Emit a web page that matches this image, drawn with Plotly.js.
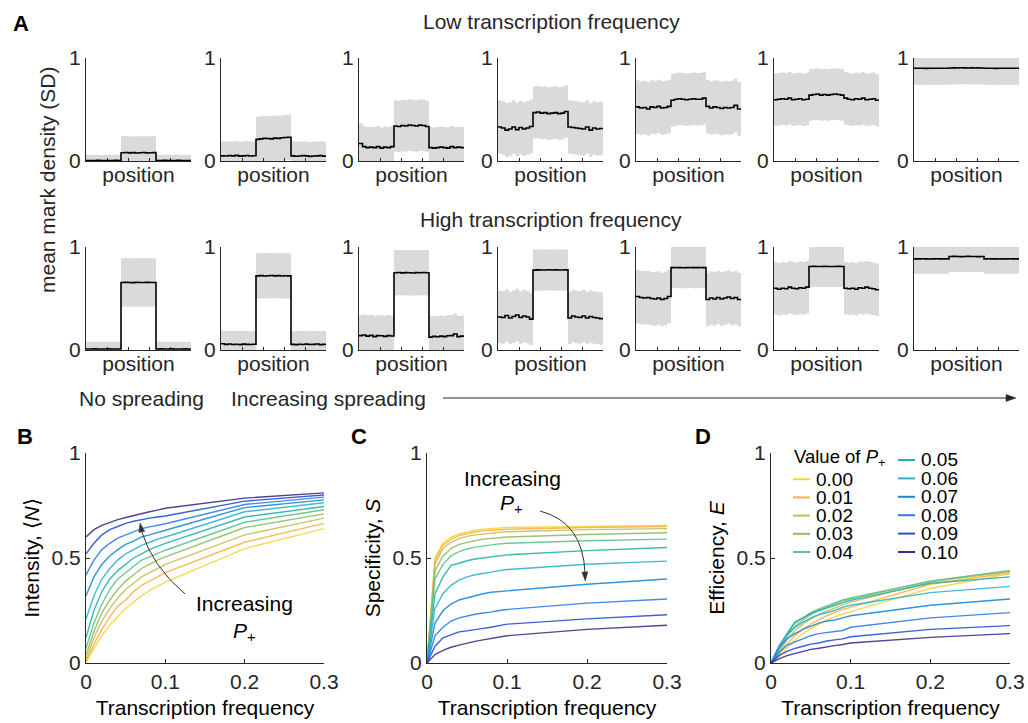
<!DOCTYPE html>
<html>
<head>
<meta charset="utf-8">
<script src="https://cdn.plot.ly/plotly-3.0.1.min.js"></script>
<style>html,body{margin:0;padding:0;background:#fff;}#chart{width:1028px;height:723px;}</style>
</head>
<body>
<div id="chart"></div>
<script>
// ---------- DATA ----------
// Panel A: mean mark density profiles (30 position bins, inner region = bins 10-19)
var lowFreqProfiles = [
  [0.005,0.004,0.005,0.006,0.004,0.005,0.005,0.004,0.006,0.005, 0.080,0.082,0.079,0.081,0.078,0.080,0.082,0.079,0.080,0.081, 0.005,0.004,0.006,0.005,0.004,0.005,0.006,0.004,0.005,0.005],
  [0.050,0.048,0.052,0.050,0.055,0.047,0.050,0.053,0.049,0.051, 0.210,0.215,0.220,0.218,0.215,0.222,0.220,0.225,0.228,0.230, 0.050,0.046,0.048,0.052,0.050,0.045,0.048,0.050,0.052,0.047],
  [0.170,0.140,0.130,0.135,0.130,0.140,0.125,0.135,0.130,0.140, 0.340,0.335,0.345,0.340,0.350,0.345,0.340,0.348,0.345,0.335, 0.130,0.125,0.130,0.135,0.130,0.125,0.140,0.130,0.135,0.130],
  [0.330,0.320,0.300,0.310,0.330,0.305,0.325,0.310,0.320,0.335, 0.470,0.475,0.465,0.470,0.460,0.465,0.470,0.460,0.465,0.480, 0.330,0.325,0.320,0.315,0.310,0.330,0.300,0.320,0.310,0.315],
  [0.525,0.515,0.520,0.505,0.525,0.520,0.530,0.515,0.520,0.530, 0.590,0.600,0.605,0.600,0.595,0.600,0.605,0.600,0.600,0.610, 0.530,0.515,0.525,0.520,0.510,0.520,0.515,0.520,0.540,0.505],
  [0.595,0.600,0.605,0.600,0.610,0.595,0.600,0.605,0.595,0.600, 0.640,0.645,0.650,0.640,0.645,0.640,0.645,0.650,0.645,0.640, 0.610,0.600,0.595,0.605,0.600,0.610,0.595,0.600,0.605,0.590],
  [0.900,0.901,0.900,0.899,0.900,0.900,0.901,0.900,0.900,0.901, 0.903,0.904,0.903,0.905,0.904,0.903,0.904,0.903,0.904,0.903, 0.900,0.900,0.901,0.899,0.900,0.900,0.901,0.900,0.900,0.900]
];
var highFreqProfiles = [
  [0.010,0.009,0.011,0.010,0.009,0.010,0.011,0.010,0.009,0.010, 0.655,0.657,0.656,0.654,0.657,0.656,0.655,0.657,0.656,0.655, 0.010,0.011,0.009,0.010,0.011,0.010,0.009,0.010,0.011,0.010],
  [0.060,0.055,0.058,0.054,0.056,0.052,0.057,0.055,0.053,0.056, 0.720,0.722,0.719,0.721,0.724,0.720,0.722,0.719,0.721,0.720, 0.055,0.052,0.056,0.054,0.057,0.053,0.055,0.058,0.052,0.055],
  [0.140,0.145,0.135,0.142,0.130,0.140,0.138,0.132,0.140,0.136, 0.750,0.752,0.749,0.751,0.750,0.748,0.751,0.750,0.752,0.750, 0.125,0.132,0.128,0.135,0.130,0.138,0.140,0.155,0.130,0.135],
  [0.320,0.315,0.335,0.310,0.325,0.340,0.315,0.330,0.320,0.300, 0.775,0.778,0.776,0.777,0.779,0.776,0.778,0.777,0.776,0.778, 0.310,0.330,0.320,0.315,0.330,0.310,0.325,0.315,0.310,0.305],
  [0.520,0.510,0.505,0.510,0.500,0.495,0.505,0.490,0.500,0.520, 0.800,0.801,0.800,0.799,0.800,0.801,0.800,0.800,0.801,0.800, 0.490,0.505,0.495,0.510,0.495,0.505,0.515,0.500,0.510,0.490],
  [0.600,0.590,0.600,0.595,0.610,0.600,0.595,0.605,0.600,0.610, 0.810,0.812,0.811,0.810,0.812,0.811,0.810,0.811,0.812,0.810, 0.600,0.595,0.600,0.590,0.605,0.600,0.610,0.600,0.595,0.585],
  [0.885,0.885,0.886,0.885,0.884,0.885,0.886,0.885,0.885,0.885, 0.908,0.909,0.908,0.907,0.908,0.909,0.908,0.908,0.907,0.908, 0.885,0.886,0.885,0.885,0.884,0.885,0.885,0.886,0.885,0.885]
];
// standard deviation outside / inside the transcribed region
var lowSdOut  = [0.055,0.14,0.20,0.26,0.26,0.255,0.16];
var lowSdIn   = [0.16,0.22,0.25,0.255,0.255,0.25,0.16];
var highSdOut = [0.07,0.13,0.20,0.255,0.26,0.255,0.145];
var highSdIn  = [0.235,0.22,0.22,0.20,0.20,0.20,0.15];

// Panels B-D
var transcriptionFreq = [0,0.01,0.02,0.03,0.04,0.05,0.06,0.07,0.08,0.09,0.10,0.20,0.30];
var pPlusValues = ['0.00','0.01','0.02','0.03','0.04','0.05','0.06','0.07','0.08','0.09','0.10'];
var intensity = [
  [0.00,0.07,0.13,0.18,0.22,0.26,0.29,0.32,0.345,0.365,0.385,0.545,0.64],
  [0.01,0.09,0.16,0.22,0.27,0.30,0.34,0.37,0.39,0.41,0.43,0.575,0.665],
  [0.02,0.12,0.20,0.26,0.31,0.35,0.38,0.41,0.43,0.45,0.47,0.61,0.69],
  [0.04,0.15,0.24,0.30,0.35,0.39,0.42,0.45,0.47,0.49,0.505,0.645,0.71],
  [0.07,0.19,0.28,0.35,0.40,0.43,0.46,0.49,0.505,0.52,0.537,0.67,0.73],
  [0.12,0.25,0.34,0.40,0.44,0.47,0.50,0.52,0.54,0.555,0.57,0.695,0.745],
  [0.21,0.32,0.40,0.45,0.49,0.52,0.54,0.56,0.575,0.59,0.60,0.72,0.763],
  [0.32,0.41,0.47,0.51,0.54,0.565,0.58,0.60,0.61,0.622,0.632,0.74,0.777],
  [0.42,0.49,0.54,0.57,0.595,0.61,0.625,0.64,0.648,0.656,0.663,0.755,0.79],
  [0.52,0.57,0.61,0.635,0.65,0.665,0.675,0.683,0.69,0.695,0.70,0.771,0.80],
  [0.60,0.635,0.655,0.67,0.683,0.693,0.703,0.712,0.72,0.728,0.737,0.785,0.81]
];
var specificity = [
  [0,0.50,0.57,0.60,0.615,0.625,0.632,0.637,0.64,0.642,0.645,0.65,0.655],
  [0,0.49,0.56,0.59,0.607,0.617,0.624,0.629,0.632,0.635,0.637,0.645,0.65],
  [0,0.47,0.545,0.575,0.592,0.603,0.61,0.615,0.619,0.622,0.625,0.635,0.64],
  [0,0.44,0.51,0.545,0.565,0.575,0.583,0.59,0.594,0.598,0.60,0.612,0.62],
  [0,0.40,0.47,0.51,0.53,0.543,0.552,0.558,0.563,0.567,0.57,0.582,0.59],
  [0,0.33,0.41,0.465,0.475,0.487,0.495,0.50,0.505,0.51,0.515,0.535,0.55],
  [0,0.26,0.33,0.37,0.395,0.41,0.42,0.428,0.433,0.44,0.445,0.47,0.485],
  [0,0.19,0.25,0.28,0.30,0.31,0.323,0.33,0.337,0.34,0.345,0.375,0.40],
  [0,0.13,0.17,0.20,0.215,0.225,0.232,0.238,0.242,0.25,0.255,0.285,0.305],
  [0,0.08,0.12,0.135,0.148,0.153,0.16,0.165,0.17,0.178,0.185,0.21,0.23],
  [0,0.04,0.06,0.075,0.085,0.095,0.103,0.11,0.116,0.122,0.13,0.16,0.18]
];
var efficiency = [
  [0,0.03,0.07,0.11,0.14,0.165,0.185,0.205,0.22,0.232,0.245,0.355,0.425],
  [0,0.04,0.09,0.13,0.16,0.185,0.205,0.225,0.24,0.255,0.265,0.375,0.43],
  [0,0.05,0.11,0.155,0.185,0.21,0.23,0.248,0.262,0.275,0.29,0.385,0.435],
  [0,0.06,0.125,0.175,0.205,0.23,0.25,0.265,0.28,0.295,0.305,0.39,0.44],
  [0,0.07,0.135,0.19,0.215,0.24,0.258,0.272,0.287,0.30,0.31,0.39,0.44],
  [0,0.08,0.14,0.195,0.215,0.235,0.25,0.262,0.275,0.288,0.298,0.38,0.41],
  [0,0.08,0.135,0.17,0.195,0.215,0.23,0.24,0.25,0.265,0.275,0.335,0.365],
  [0,0.07,0.115,0.14,0.16,0.175,0.19,0.20,0.205,0.215,0.225,0.275,0.305],
  [0,0.05,0.085,0.10,0.115,0.13,0.14,0.145,0.15,0.155,0.17,0.215,0.24],
  [0,0.035,0.055,0.07,0.08,0.09,0.095,0.105,0.11,0.115,0.125,0.16,0.178],
  [0,0.02,0.035,0.045,0.055,0.065,0.07,0.078,0.083,0.088,0.095,0.122,0.14]
];
var tfTicks = [0,0.1,0.2,0.3];
var tfTickText = ['0','0.1','0.2','0.3'];

// ---------- STYLE / LAYOUT ----------
var W = 1028, H = 723;
var FONT = 'Liberation Sans, Arial, Helvetica, sans-serif';
var AX = '#262626';
var colors = ['#f6d43c','#f8b246','#c8bb5c','#8fbd62','#5cc290','#22b3a6','#2fb0cf','#1a8ad6','#2f7de5','#2450d2','#3b2f8a'];
function px(x){return x/W;}
function py(y){return 1 - y/H;}

var topLefts = [86,221,359,498,636,774,914];
var topW = 105;
var rows = [{top:58,bot:161},{top:247,bot:350}];
var bottomPanels = [{l:86,r:324},{l:427,r:667},{l:771,r:1010}];
var bTop = 453, bBot = 663;

var data = [];
var layout = {
  width: W, height: H,
  margin: {l:0,r:0,t:0,b:0},
  paper_bgcolor: '#fff', plot_bgcolor: 'rgba(0,0,0,0)',
  showlegend: false,
  font: {family: FONT, size: 21, color: AX},
  annotations: [], shapes: []
};

var nb = 30;
var binX = [];
for (var i = 0; i <= nb; i++) binX.push(i/nb);

var axIdx = 0;
function addTopPanel(profile, sdOut, sdIn, row) {
  axIdx++;
  var xa = 'x' + axIdx, ya = 'y' + axIdx;
  var mean = profile.concat([profile[profile.length-1]]);
  var lo = [], hi = [];
  for (var i = 0; i < mean.length; i++) {
    var b = Math.min(i, nb-1);
    var sd = (b >= 10 && b <= 19) ? sdIn : sdOut;
    lo.push(mean[i] - sd); hi.push(mean[i] + sd);
  }
  data.push({x: binX, y: lo, xaxis: xa, yaxis: ya, type: 'scatter', mode: 'lines',
    line: {shape: 'hv', width: 0, color: '#dadada'}, hoverinfo: 'skip'});
  data.push({x: binX, y: hi, xaxis: xa, yaxis: ya, type: 'scatter', mode: 'lines',
    line: {shape: 'hv', width: 0, color: '#dadada'}, fill: 'tonexty', fillcolor: '#dadada', hoverinfo: 'skip'});
  data.push({x: binX, y: mean, xaxis: xa, yaxis: ya, type: 'scatter', mode: 'lines',
    line: {shape: 'hv', width: 1.6, color: '#000'}});
  var col = (axIdx - 1) % 7;
  var r = rows[row];
  var xkey = 'xaxis' + (axIdx === 1 ? '' : axIdx), ykey = 'yaxis' + (axIdx === 1 ? '' : axIdx);
  layout[xkey] = {domain: [px(topLefts[col]), px(topLefts[col] + topW)], anchor: ya, range: [0,1],
    showline: true, linecolor: AX, linewidth: 1, ticks: 'inside', ticklen: 3, tickcolor: AX,
    tickvals: [0,0.2,0.4,0.6,0.8,1], showticklabels: false, showgrid: false, zeroline: false,
    title: {text: 'position', font: {size: 21, color: AX}, standoff: 6}, fixedrange: true};
  layout[ykey] = {domain: [py(r.bot), py(r.top)], anchor: xa, range: [0,1],
    showline: true, linecolor: AX, linewidth: 1, ticks: 'inside', ticklen: 3, tickcolor: AX,
    tickvals: [0,1], ticktext: ['0','1'], showgrid: false, zeroline: false,
    tickfont: {size: 21, color: AX}, fixedrange: true};
}
for (var k = 0; k < 7; k++) addTopPanel(lowFreqProfiles[k], lowSdOut[k], lowSdIn[k], 0);
for (var k = 0; k < 7; k++) addTopPanel(highFreqProfiles[k], highSdOut[k], highSdIn[k], 1);

var bottomSeries = [intensity, specificity, efficiency];
var bottomTitles = ['Intensity, \u27e8<i>N</i>\u27e9', 'Specificity, <i>S</i>', 'Efficiency, <i>E</i>'];
for (var p = 0; p < 3; p++) {
  axIdx++;
  var xa = 'x' + axIdx, ya = 'y' + axIdx;
  for (var s = 0; s < pPlusValues.length; s++) {
    data.push({x: transcriptionFreq, y: bottomSeries[p][s], xaxis: xa, yaxis: ya, type: 'scatter',
      mode: 'lines', name: pPlusValues[s], line: {color: colors[s], width: 1.4}, opacity: 0.9});
  }
  var bp = bottomPanels[p];
  layout['xaxis' + axIdx] = {domain: [px(bp.l), px(bp.r)], anchor: ya, range: [0,0.3],
    showline: true, linecolor: AX, linewidth: 1, ticks: 'inside', ticklen: 4, tickcolor: AX,
    tickvals: tfTicks, ticktext: tfTickText, showgrid: false, zeroline: false,
    tickfont: {size: 21, color: AX},
    title: {text: 'Transcription frequency', font: {size: 21, color: '#000'}, standoff: 8}, fixedrange: true};
  layout['yaxis' + axIdx] = {domain: [py(bBot), py(bTop)], anchor: xa, range: [0,1],
    showline: true, linecolor: AX, linewidth: 1, ticks: 'inside', ticklen: 4, tickcolor: AX,
    tickvals: [0,0.5,1], ticktext: ['0','0.5','1'], showgrid: false, zeroline: false,
    tickfont: {size: 21, color: AX},
    title: {text: bottomTitles[p], font: {size: 21, color: '#000'}, standoff: 6}, fixedrange: true};
}

// ---------- ANNOTATIONS / SHAPES ----------
var ann = layout.annotations, shp = layout.shapes;
function txt(x, y, t, opts) {
  var a = {xref: 'paper', yref: 'paper', x: px(x), y: py(y), text: t, showarrow: false,
    font: {family: FONT, size: 21, color: AX}, xanchor: 'center', yanchor: 'middle'};
  for (var k in opts) a[k] = opts[k];
  ann.push(a);
}
// pixel position helpers for bottom panels
function bx(p, v){var b = bottomPanels[p]; return b.l + v/0.3*(b.r - b.l);}
function by(v){return bBot - v*(bBot - bTop);}
function arrowHead(tipX, tipY, dx, dy, len, hw, color) {
  var n = Math.sqrt(dx*dx + dy*dy); dx /= n; dy /= n;
  var bxp = tipX - dx*len, byp = tipY - dy*len;
  var p1x = bxp - dy*hw, p1y = byp + dx*hw, p2x = bxp + dy*hw, p2y = byp - dx*hw;
  shp.push({type: 'path', xref: 'paper', yref: 'paper',
    path: 'M ' + px(tipX) + ' ' + py(tipY) + ' L ' + px(p1x) + ' ' + py(p1y) + ' L ' + px(p2x) + ' ' + py(p2y) + ' Z',
    fillcolor: color, line: {color: color, width: 0.5}});
}
function curve(x0, y0, cx, cy, x1, y1, color) {
  shp.push({type: 'path', xref: 'paper', yref: 'paper',
    path: 'M ' + px(x0) + ' ' + py(y0) + ' Q ' + px(cx) + ' ' + py(cy) + ' ' + px(x1) + ' ' + py(y1),
    line: {color: color, width: 1}});
}

txt(21, 24, '<b>A</b>', {font: {family: FONT, size: 22, color: '#000'}});
txt(25, 436, '<b>B</b>', {font: {family: FONT, size: 22, color: '#000'}});
txt(359, 436, '<b>C</b>', {font: {family: FONT, size: 22, color: '#000'}});
txt(703, 436, '<b>D</b>', {font: {family: FONT, size: 22, color: '#000'}});
txt(551, 21, 'Low transcription frequency');
txt(551, 219, 'High transcription frequency');
txt(47, 180, 'mean mark density (SD)', {textangle: -90});
txt(141, 398, 'No spreading');
txt(328, 398, 'Increasing spreading');
// spreading arrow
shp.push({type: 'line', xref: 'paper', yref: 'paper', x0: px(443), x1: px(1008), y0: py(398), y1: py(398),
  line: {color: AX, width: 1.2}});
arrowHead(1016, 398, 1, 0, 10, 3.5, AX);

// Panel B "Increasing P+"
var pPlus = '<i>P</i><sub>+</sub>';
txt(bx(0, 0.2), by(0.285), 'Increasing', {font: {family: FONT, size: 21, color: '#000'}});
txt(bx(0, 0.2), by(0.15), pPlus, {font: {family: FONT, size: 21, color: '#000'}});
curve(185, 594, 152, 566, 141.5, 531, '#333');
arrowHead(140, 523, -0.2, -1, 9, 3, '#333');

// Panel C
txt(bx(1, 0.107), by(0.88), 'Increasing', {font: {family: FONT, size: 21, color: '#000'}});
txt(bx(1, 0.105), by(0.755), pPlus, {font: {family: FONT, size: 21, color: '#000'}});
curve(540, 511, 583, 522, 585, 573, '#333');
arrowHead(585.3, 581, 0.05, 1, 9, 3, '#333');

// Panel D legend (two columns)
txt(792, 458, 'Value of ' + pPlus, {xanchor: 'left', font: {family: FONT, size: 18.5, color: '#000'}});
for (var s = 0; s < pPlusValues.length; s++) {
  var colL = s < 5 ? 0 : 1;
  var rowI = s < 5 ? s + 1 : s - 5;
  var lx = colL === 0 ? 793 : 898;
  var ly = colL === 0 ? 461 + rowI * 18.2 : 460 + rowI * 18.4;
  shp.push({type: 'line', xref: 'paper', yref: 'paper', x0: px(lx), x1: px(lx + 17), y0: py(ly), y1: py(ly),
    line: {color: colors[s], width: 2}});
  txt(lx + 22, ly, pPlusValues[s], {xanchor: 'left', height: 17, borderpad: 0,
    font: {family: FONT, size: 19, color: '#000'}});
}

Plotly.newPlot('chart', data, layout, {displayModeBar: false, staticPlot: true});
</script>
</body>
</html>
